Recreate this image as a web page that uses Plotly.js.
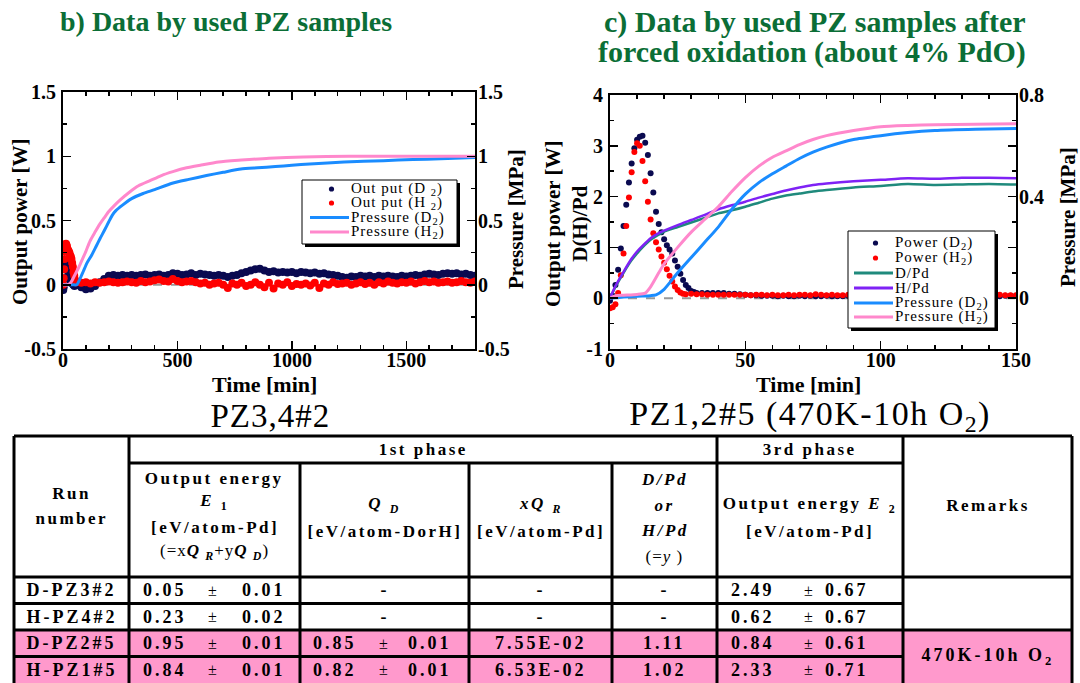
<!DOCTYPE html>
<html>
<head>
<meta charset="utf-8">
<script src="https://cdn.plot.ly/plotly-3.0.1.min.js"></script>
<style>
  html, body { margin: 0; padding: 0; background: #fff; }
  #chart { width: 1080px; height: 683px; }
</style>
</head>
<body>
<div id="chart"></div>
<script>
// ---------------- Panel b: used PZ samples (PZ3,4#2) ----------------
// Output power during the first minutes of the run [min], [W]
const tB_startD = [1, 3, 5, 8, 11, 14, 17, 20, 24, 28, 32, 36, 40, 45, 50, 55];
const powB_startD = [-0.04, -0.02, 0.05, 0.12, 0.16, 0.17, 0.15, 0.12, 0.08, 0.05, 0.03, 0.02, 0.01, 0.0, -0.01, 0.0];
const tB_startH = [1, 3, 5, 7, 9, 11, 13, 15, 17, 19, 22, 25, 28, 31, 34, 37, 40, 43, 46, 49, 52, 56];
const powB_startH = [0.0, 0.05, 0.12, 0.2, 0.26, 0.3, 0.32, 0.31, 0.3, 0.28, 0.27, 0.26, 0.25, 0.23, 0.22, 0.2, 0.17, 0.14, 0.1, 0.07, 0.04, 0.02];

// Output power for the rest of the run, sampled every 20 min
const tB = [
  60, 80, 100, 120, 140, 160, 180, 200, 220, 240,
  260, 280, 300, 320, 340, 360, 380, 400, 420, 440,
  460, 480, 500, 520, 540, 560, 580, 600, 620, 640,
  660, 680, 700, 720, 740, 760, 780, 800, 820, 840,
  860, 880, 900, 920, 940, 960, 980, 1000, 1020, 1040,
  1060, 1080, 1100, 1120, 1140, 1160, 1180, 1200, 1220, 1240,
  1260, 1280, 1300, 1320, 1340, 1360, 1380, 1400, 1420, 1440,
  1460, 1480, 1500, 1520, 1540, 1560, 1580, 1600, 1620, 1640,
  1660, 1680, 1700, 1720, 1740, 1760, 1780, 1800
];
const powB_D2 = [
  0.0, -0.02, -0.035, -0.03, -0.01, 0.02, 0.045, 0.07, 0.075, 0.07,
  0.075, 0.07, 0.075, 0.07, 0.075, 0.08, 0.07, 0.075, 0.08, 0.07,
  0.075, 0.09, 0.085, 0.075, 0.08, 0.09, 0.075, 0.085, 0.08, 0.075,
  0.07, 0.075, 0.07, 0.06, 0.07, 0.075, 0.09, 0.1, 0.11, 0.12,
  0.125, 0.11, 0.1, 0.105, 0.095, 0.1, 0.095, 0.1, 0.09, 0.1,
  0.095, 0.09, 0.095, 0.085, 0.09, 0.08, 0.075, 0.07, 0.06, 0.055,
  0.065, 0.06, 0.07, 0.065, 0.07, 0.06, 0.07, 0.065, 0.07, 0.065,
  0.06, 0.07, 0.065, 0.07, 0.075, 0.07, 0.08, 0.085, 0.08, 0.075,
  0.085, 0.09, 0.085, 0.09, 0.08, 0.085, 0.075, 0.07
];
const powB_H2 = [
  0.02, 0.015, 0.02, 0.01, 0.02, 0.015, 0.02, 0.025, 0.02, 0.015,
  0.02, 0.025, 0.02, 0.015, 0.03, 0.02, 0.025, 0.035, 0.04, 0.03,
  0.025, 0.045, 0.03, 0.02, 0.025, 0.03, 0.02, 0.01, 0.015, 0.0,
  0.01, 0.015, 0.0, -0.025, 0.01, 0.0, 0.015, -0.01, 0.0, 0.02,
  0.0, -0.02, 0.015, -0.03, 0.01, 0.0, 0.02, -0.01, 0.005, 0.0,
  0.01, -0.005, 0.015, -0.025, 0.01, 0.0, 0.02, 0.005, 0.01, 0.015,
  0.0, 0.01, 0.02, 0.005, 0.015, 0.0, 0.02, 0.01, 0.025, 0.015,
  0.01, 0.02, 0.015, 0.025, 0.01, 0.02, 0.03, 0.02, 0.025, 0.015,
  0.02, 0.025, 0.015, 0.02, 0.03, 0.02, 0.015, 0.025
];

// Gas pressure [MPa]
const tPresB_D2 = [0, 40, 60, 75, 89, 105, 125, 145, 162, 180, 200, 215, 230, 260, 300, 350, 400, 477, 550, 627, 700, 777, 850, 928, 1000, 1078, 1228, 1400, 1529, 1650, 1800];
const presB_D2 = [0, 0, 0.0, 0.05, 0.105, 0.17, 0.23, 0.3, 0.36, 0.42, 0.49, 0.54, 0.575, 0.62, 0.67, 0.71, 0.74, 0.79, 0.82, 0.85, 0.875, 0.9, 0.91, 0.92, 0.93, 0.94, 0.955, 0.965, 0.975, 0.98, 0.99];
const tPresB_H2 = [0, 20, 35, 50, 70, 85, 100, 118, 140, 160, 180, 200, 221, 250, 290, 330, 380, 430, 480, 540, 600, 680, 780, 900, 1050, 1250, 1500, 1800];
const presB_H2 = [0, 0, 0.02, 0.07, 0.14, 0.2, 0.26, 0.34, 0.41, 0.47, 0.52, 0.57, 0.61, 0.66, 0.72, 0.77, 0.81, 0.85, 0.88, 0.91, 0.93, 0.955, 0.97, 0.985, 0.995, 1.0, 1.0, 1.0];

// ---------------- Panel c: after forced oxidation (PZ1,2#5) ----------------
// Output power peak, 1 min sampling
const tC_peakD = [0, 1, 2, 3, 4, 5, 6, 7, 8, 9, 10, 11, 12, 13, 14, 15, 16, 17, 18, 19, 20, 21, 22, 23, 24, 25, 26, 27, 28, 29, 30, 31, 32];
const powC_peakD = [-0.05, 0.05, 0.26, 0.56, 0.98, 1.42, 1.84, 2.28, 2.65, 2.95, 3.12, 3.18, 3.2, 3.06, 2.82, 2.46, 2.08, 1.7, 1.46, 1.3, 1.16, 1.04, 0.96, 0.88, 0.74, 0.62, 0.48, 0.36, 0.26, 0.2, 0.14, 0.12, 0.1];
const tC_peakH = [0, 1, 2, 3, 4, 5, 6, 7, 8, 9, 10, 11, 12, 13, 14, 15, 16, 17, 18, 19, 20, 21, 22, 23, 24, 25, 26, 27, 28];
const powC_peakH = [-0.2, -0.18, -0.12, 0.1, 0.45, 0.88, 1.42, 1.98, 2.48, 2.88, 3.05, 3.0, 2.7, 2.3, 1.9, 1.55, 1.28, 1.1, 0.96, 0.82, 0.7, 0.57, 0.44, 0.33, 0.23, 0.16, 0.11, 0.09, 0.08];

// Output power after the peak, 2 min sampling
const tC_tailD = [
  34, 36, 38, 40, 42, 44, 46, 48, 50, 52,
  54, 56, 58, 60, 62, 64, 66, 68, 70, 72,
  74, 76, 78, 80, 82, 84, 86, 88, 90, 92,
  94, 96, 98, 100, 102, 104, 106, 108, 110, 112,
  114, 116, 118, 120, 122, 124, 126, 128, 130, 132,
  134, 136, 138, 140, 142, 144, 146, 148, 150
];
const powC_tailD = [
  0.1, 0.1, 0.1, 0.1, 0.1, 0.09, 0.09, 0.08, 0.07, 0.06,
  0.06, 0.05, 0.05, 0.05, 0.04, 0.05, 0.04, 0.04, 0.05, 0.04,
  0.05, 0.04, 0.04, 0.05, 0.04, 0.04, 0.04, 0.05, 0.04, 0.04,
  0.05, 0.04, 0.05, 0.05, 0.04, 0.05, 0.05, 0.04, 0.05, 0.05,
  0.04, 0.05, 0.05, 0.04, 0.05, 0.05, 0.05, 0.04, 0.05, 0.05,
  0.05, 0.04, 0.05, 0.05, 0.05, 0.04, 0.05, 0.05, 0.05
];
const tC_tailH = [
  30, 32, 34, 36, 38, 40, 42, 44, 46, 48,
  50, 52, 54, 56, 58, 60, 62, 64, 66, 68,
  70, 72, 74, 76, 78, 80, 82, 84, 86, 88,
  90, 92, 94, 96, 98, 100, 102, 104, 106, 108,
  110, 112, 114, 116, 118, 120, 122, 124, 126, 128,
  130, 132, 134, 136, 138, 140, 142, 144, 146, 148,
  150
];
const powC_tailH = [
  0.09, 0.08, 0.08, 0.07, 0.07, 0.07, 0.07, 0.07, 0.07, 0.07,
  0.07, 0.06, 0.07, 0.07, 0.06, 0.07, 0.06, 0.06, 0.07, 0.06,
  0.07, 0.07, 0.06, 0.08, 0.07, 0.06, 0.07, 0.06, 0.06, 0.07,
  0.06, 0.06, 0.07, 0.06, 0.06, 0.06, 0.07, 0.06, 0.06, 0.06,
  0.06, 0.07, 0.06, 0.06, 0.06, 0.06, 0.07, 0.06, 0.06, 0.06,
  0.06, 0.06, 0.07, 0.06, 0.06, 0.06, 0.06, 0.07, 0.06, 0.06,
  0.06
];

// Loading ratio D/Pd and H/Pd
const tC_ratio = [0, 2, 5, 8, 10, 12, 15, 18, 20, 25, 30, 35, 40, 45, 50, 55, 60, 65, 70, 75, 80, 90, 100, 110, 120, 130, 140, 150];
const ratioD = [0, 0.22, 0.5, 0.75, 0.88, 1.0, 1.15, 1.25, 1.31, 1.4, 1.49, 1.58, 1.67, 1.73, 1.8, 1.88, 1.96, 2.02, 2.06, 2.1, 2.13, 2.18, 2.21, 2.25, 2.23, 2.24, 2.25, 2.24];
const ratioH = [0, 0.24, 0.52, 0.78, 0.92, 1.03, 1.18, 1.28, 1.33, 1.44, 1.54, 1.64, 1.75, 1.83, 1.9, 1.98, 2.05, 2.12, 2.18, 2.23, 2.26, 2.3, 2.33, 2.36, 2.35, 2.37, 2.37, 2.36];

// Gas pressure [MPa]
const tPresC_D2 = [0, 5, 10, 15, 17, 20, 25, 30, 35, 40, 45, 50, 55, 60, 65, 70, 75, 80, 90, 100, 110, 120, 135, 150];
const presC_D2 = [0, 0.005, 0.008, 0.01, 0.013, 0.035, 0.1, 0.16, 0.22, 0.28, 0.35, 0.41, 0.455, 0.49, 0.52, 0.55, 0.575, 0.595, 0.625, 0.64, 0.652, 0.66, 0.665, 0.668];
const tPresC_H2 = [0, 2, 5, 10, 13, 15, 18, 20, 25, 30, 35, 40, 45, 50, 55, 60, 65, 70, 75, 80, 90, 100, 110, 120, 135, 150];
const presC_H2 = [0, 0.01, 0.012, 0.015, 0.02, 0.045, 0.1, 0.135, 0.2, 0.26, 0.31, 0.36, 0.42, 0.475, 0.52, 0.555, 0.58, 0.605, 0.625, 0.64, 0.66, 0.675, 0.68, 0.683, 0.685, 0.687];

// Axis tick labels
const yTicksB = [-0.5, 0, 0.5, 1, 1.5];
const yTickTextB = ['-0.5', '0', '0.5', '1', '1.5'];
const yTicksC = [-1, 0, 1, 2, 3, 4];
const yTickTextC = ['-1', '0', '1', '2', '3', '4'];
const yTicksC2 = [0, 0.4, 0.8];
const yTickTextC2 = ['0', '0.4', '0.8'];

// ---------------- Summary table ----------------
const runIds = ['D-PZ3#2', 'H-PZ4#2', 'D-PZ2#5', 'H-PZ1#5'];
const e1Val = ['0.05', '0.23', '0.95', '0.84'];
const e1Err = ['0.01', '0.02', '0.01', '0.01'];
const qdVal = [null, null, '0.85', '0.82'];
const qdErr = [null, null, '0.01', '0.01'];
const xqrVal = ['-', '-', '7.55E-02', '6.53E-02'];
const yRatioVal = ['-', '-', '1.11', '1.02'];
const e2Val = ['2.49', '0.62', '0.84', '2.33'];
const e2Err = ['0.67', '0.67', '0.61', '0.71'];
const highlightRows = [2, 3];
const remarkText = '470K-10h O<sub>2</sub>';

// ---------------- Colours and helpers ----------------
const FONT = 'Liberation Serif';
const C = {
  navy: '#0a0a50', red: '#ff0000', blue: '#1a8cff', pink: '#ff88cc',
  teal: '#1f8a7c', purple: '#7f22f5', green: '#0b6e36', fill: '#ff99cc'
};
const W = 1080, H = 683;
const px = x => x / W;
const py = y => 1 - y / H;

const shapes = [];
const annotations = [];
const spaced = []; // [annotation index, letter spacing px]

function addText(text, x, y, opt = {}) {
  const xanchor = opt.xanchor || 'center';
  annotations.push({
    text, x: px(x), y: py(y), xref: 'paper', yref: 'paper', showarrow: false,
    xanchor, yanchor: 'middle', align: xanchor === 'left' ? 'left' : (xanchor === 'right' ? 'right' : 'center'),
    textangle: opt.angle || 0,
    font: { family: FONT, size: opt.size || 17, color: opt.color || '#000', weight: opt.weight || 'bold' },
    borderpad: 0
  });
  const i = annotations.length - 1;
  if (opt.spacing) spaced.push([i, opt.spacing]);
  return i;
}
function line(x0, y0, x1, y1, w, color) {
  shapes.push({ type: 'line', xref: 'paper', yref: 'paper', x0: px(x0), y0: py(y0), x1: px(x1), y1: py(y1),
    line: { color: color || '#000', width: w } });
}
function rect(x0, y0, x1, y1, fill, lineColor, lw) {
  shapes.push({ type: 'rect', xref: 'paper', yref: 'paper', x0: px(x0), y0: py(y0), x1: px(x1), y1: py(y1),
    fillcolor: fill, line: { color: lineColor || fill, width: lw || 0 } });
}
function dot(cx, cy, r, color) {
  shapes.push({ type: 'circle', xref: 'paper', yref: 'paper', x0: px(cx - r), y0: py(cy + r), x1: px(cx + r), y1: py(cy - r),
    fillcolor: color, line: { width: 0 } });
}

// ---------------- Traces ----------------
const traces = [
  // panel b
  { x: tB_startD.concat(tB), y: powB_startD.concat(powB_D2), xaxis: 'x', yaxis: 'y', mode: 'markers',
    marker: { color: C.navy, size: 8 }, name: 'Out put (D2)' },
  { x: tB_startH.concat(tB), y: powB_startH.concat(powB_H2), xaxis: 'x', yaxis: 'y', mode: 'markers',
    marker: { color: C.red, size: 8 }, name: 'Out put (H2)' },
  { x: tPresB_D2, y: presB_D2, xaxis: 'x', yaxis: 'y2', mode: 'lines', line: { color: C.blue, width: 3, shape: 'spline', smoothing: 0.6 }, name: 'Pressure (D2)' },
  { x: tPresB_H2, y: presB_H2, xaxis: 'x', yaxis: 'y2', mode: 'lines', line: { color: C.pink, width: 3, shape: 'spline', smoothing: 0.6 }, name: 'Pressure (H2)' },
  // panel c
  { x: tC_peakD.concat(tC_tailD), y: powC_peakD.concat(powC_tailD), xaxis: 'x2', yaxis: 'y3', mode: 'markers',
    marker: { color: C.navy, size: 6 }, name: 'Power (D2)' },
  { x: tC_peakH.concat(tC_tailH), y: powC_peakH.concat(powC_tailH), xaxis: 'x2', yaxis: 'y3', mode: 'markers',
    marker: { color: C.red, size: 6 }, name: 'Power (H2)' },
  { x: tC_ratio, y: ratioD, xaxis: 'x2', yaxis: 'y3', mode: 'lines', line: { color: C.teal, width: 2.5, shape: 'spline', smoothing: 0.6 }, name: 'D/Pd' },
  { x: tC_ratio, y: ratioH, xaxis: 'x2', yaxis: 'y3', mode: 'lines', line: { color: C.purple, width: 2.5, shape: 'spline', smoothing: 0.6 }, name: 'H/Pd' },
  { x: tPresC_D2, y: presC_D2, xaxis: 'x2', yaxis: 'y4', mode: 'lines', line: { color: C.blue, width: 3, shape: 'spline', smoothing: 0.6 }, name: 'Pressure (D2)' },
  { x: tPresC_H2, y: presC_H2, xaxis: 'x2', yaxis: 'y4', mode: 'lines', line: { color: C.pink, width: 3, shape: 'spline', smoothing: 0.6 }, name: 'Pressure (H2)' }
];

// zero reference lines
shapes.push({ type: 'line', xref: 'x', yref: 'y', x0: 0, x1: 1800, y0: 0, y1: 0, layer: 'below', line: { color: '#999', width: 2, dash: 'dash' } });
shapes.push({ type: 'line', xref: 'x2', yref: 'y3', x0: 0, x1: 150, y0: 0, y1: 0, layer: 'below', line: { color: '#999', width: 2, dash: 'dash' } });

// ---------------- Axes ----------------
const tickFont = { family: FONT, size: 20, color: '#000', weight: 'bold' };
const axisBase = {
  showline: true, linecolor: '#000', linewidth: 2,
  ticks: 'inside', ticklen: 8, tickwidth: 1.5, tickcolor: '#000',
  showgrid: false, zeroline: false, fixedrange: true, tickfont: tickFont, ticklabelstandoff: 1
};
const minorBase = { ticks: 'inside', ticklen: 4, tickwidth: 1.5, tickcolor: '#000', showgrid: false };

const B = { x0: 63, x1: 475, y0: 92, y1: 349 };
const Cc = { x0: 610, x1: 1016, y0: 95, y1: 349 };

const layout = {
  width: W, height: H, margin: { l: 0, r: 0, t: 0, b: 0 },
  paper_bgcolor: '#fff', plot_bgcolor: 'rgba(0,0,0,0)', showlegend: false,
  xaxis: Object.assign({}, axisBase, { domain: [px(B.x0), px(B.x1)], range: [0, 1800], anchor: 'y',
    tickmode: 'linear', tick0: 0, dtick: 500, mirror: 'ticks', ticklabelstandoff: -8,
    minor: Object.assign({}, minorBase, { tick0: 0, dtick: 100 }) }),
  yaxis: Object.assign({}, axisBase, { domain: [py(B.y1), py(B.y0)], range: [-0.5, 1.5], anchor: 'x',
    tickmode: 'array', tickvals: yTicksB, ticktext: yTickTextB, mirror: 'ticks',
    minor: Object.assign({}, minorBase, { tickmode: 'linear', tick0: 0, dtick: 0.25 }) }),
  yaxis2: Object.assign({}, axisBase, { overlaying: 'y', side: 'right', anchor: 'x', range: [-0.5, 1.5],
    tickmode: 'array', tickvals: yTicksB, ticktext: yTickTextB, ticklabelstandoff: -3,
    minor: Object.assign({}, minorBase, { tickmode: 'linear', tick0: 0, dtick: 0.25 }) }),
  xaxis2: Object.assign({}, axisBase, { domain: [px(Cc.x0), px(Cc.x1)], range: [0, 150], anchor: 'y3',
    tickmode: 'linear', tick0: 0, dtick: 50, mirror: 'ticks', ticklabelstandoff: -8,
    minor: Object.assign({}, minorBase, { tick0: 0, dtick: 10 }) }),
  yaxis3: Object.assign({}, axisBase, { domain: [py(Cc.y1), py(Cc.y0)], range: [-1, 4], anchor: 'x2',
    tickmode: 'array', tickvals: yTicksC, ticktext: yTickTextC, mirror: 'ticks',
    minor: Object.assign({}, minorBase, { tickmode: 'linear', tick0: 0, dtick: 0.5 }) }),
  yaxis4: Object.assign({}, axisBase, { overlaying: 'y3', side: 'right', anchor: 'x2', range: [-0.2, 0.8],
    tickmode: 'array', tickvals: yTicksC2, ticktext: yTickTextC2, ticklabelstandoff: -3,
    minor: Object.assign({}, minorBase, { tickmode: 'linear', tick0: 0, dtick: 0.1 }) }),
  shapes, annotations
};

// ---------------- Titles and axis labels ----------------
addText('b) Data by used PZ samples', 226, 21, { size: 28, color: C.green });
addText('c) Data by used PZ samples after', 815, 22, { size: 30, color: C.green });
addText('forced oxidation (about 4% PdO)', 812, 52, { size: 30, color: C.green });

addText('Output power [W]', 20, 222, { size: 21, angle: -90 });
addText('Pressure [MPa]', 516, 219, { size: 21, angle: -90 });
addText('Time [min]', 264, 384, { size: 22 });
addText('PZ3,4#2', 270, 416, { size: 33, weight: 'normal', spacing: 1 });

addText('Output power [W]<br>D(H)/Pd', 566, 224, { size: 21, angle: -90 });
addText('Pressure [MPa]', 1068, 217, { size: 21, angle: -90 });
addText('Time [min]', 808, 384, { size: 22 });
addText('PZ1,2#5 (470K-10h O<sub>2</sub>)', 810, 416, { size: 34, weight: 'normal', spacing: 1.5 });

// ---------------- Legends ----------------
function legendBox(x0, y0, x1, y1) {
  rect(x0 + 3, y0 + 3, x1 + 3, y1 + 3, '#000');
  rect(x0, y0, x1, y1, '#fff', '#000', 1);
}
function legendEntries(entries, lx0, lx1, textX, rowY) {
  entries.forEach((e, i) => {
    const y = rowY[i];
    if (e.kind === 'dot') dot((lx0 + lx1) / 2 + 2, y, 2.6, e.color);
    else line(lx0, y, lx1, y, 3, e.color);
    addText(e.label, textX, y, { xanchor: 'left', size: 15, weight: 'normal', spacing: 1 });
  });
}
legendBox(302, 180, 457, 244);
legendEntries([
  { kind: 'dot', color: C.navy, label: 'Out put (D <sub>2</sub>)' },
  { kind: 'dot', color: C.red, label: 'Out put (H <sub>2</sub>)' },
  { kind: 'line', color: C.blue, label: 'Pressure (D<sub>2</sub>)' },
  { kind: 'line', color: C.pink, label: 'Pressure (H<sub>2</sub>)' }
], 310, 349, 350, [189, 203, 217.5, 232]);

legendBox(848, 231, 995, 328);
legendEntries([
  { kind: 'dot', color: C.navy, label: 'Power (D<sub>2</sub>)' },
  { kind: 'dot', color: C.red, label: 'Power (H<sub>2</sub>)' },
  { kind: 'line', color: C.teal, label: 'D/Pd' },
  { kind: 'line', color: C.purple, label: 'H/Pd' },
  { kind: 'line', color: C.blue, label: 'Pressure (D<sub>2</sub>)' },
  { kind: 'line', color: C.pink, label: 'Pressure (H<sub>2</sub>)' }
], 854, 893, 894, [243, 258, 273, 288, 303, 317]);

// ---------------- Table ----------------
const colX = [14, 129, 300, 469, 612, 717, 903, 1072];
const tTop = 436, tPhase = 463, tHead = 577, rowH = 26.5, tBottom = 690;
const rowY = i => tHead + rowH * (i + 0.5);
const colMid = c => (colX[c] + colX[c + 1]) / 2;
const LS = 2.5; // letter spacing of header text
const DS = 3;   // letter spacing of body text
const DZ = 18;  // body font size

// highlighted rows
const hlTop = tHead + rowH * Math.min(...highlightRows);
rect(colX[0], hlTop, colX[7], tBottom, C.fill);

// grid
const LW = 3;
line(colX[0], tTop, colX[7], tTop, LW);
line(colX[1], tPhase, colX[6], tPhase, LW);
line(colX[0], tHead, colX[7], tHead, LW);
line(colX[0], tHead + rowH, colX[6], tHead + rowH, LW);
line(colX[0], tHead + 2 * rowH, colX[7], tHead + 2 * rowH, LW);
line(colX[0], tHead + 3 * rowH, colX[6], tHead + 3 * rowH, LW);
[0, 1, 5, 6, 7].forEach(c => line(colX[c], tTop, colX[c], tBottom, LW));
[2, 3, 4].forEach(c => line(colX[c], tPhase, colX[c], tBottom, LW));

// header
addText('1st phase', (colX[1] + colX[5]) / 2, 449.5, { spacing: LS });
addText('3rd phase', colMid(5), 449.5, { spacing: LS });
addText('Run', colMid(0), 493, { spacing: LS });
addText('number', colMid(0), 518, { spacing: LS });
addText('Remarks', colMid(6), 505, { spacing: LS });

addText('Output energy', colMid(1), 478, { spacing: LS });
addText('<i>E</i> <sub>1</sub>', colMid(1), 502, { spacing: LS });
addText('[eV/atom-Pd]', colMid(1), 527, { spacing: LS });
addText('(=x<b><i>Q</i></b> <sub><b><i>R</i></b></sub>+y<b><i>Q</i></b> <sub><b><i>D</i></b></sub>)', colMid(1), 552, { spacing: 1, weight: 'normal' });

addText('<i>Q</i> <sub><i>D</i></sub>', colMid(2), 505, { spacing: LS });
addText('[eV/atom-DorH]', colMid(2), 531, { spacing: LS });

addText('<i>xQ</i> <sub><i>R</i></sub>', colMid(3), 505, { spacing: LS });
addText('[eV/atom-Pd]', colMid(3), 531, { spacing: LS });

addText('<i>D/Pd</i>', colMid(4), 479, { spacing: LS });
addText('<i>or</i>', colMid(4), 505, { spacing: LS });
addText('<i>H/Pd</i>', colMid(4), 530, { spacing: LS });
addText('(=<i>y</i> )', colMid(4), 556, { spacing: 1, weight: 'normal' });

addText('Output energy <i>E</i> <sub>2</sub>', colMid(5), 505, { spacing: LS });
addText('[eV/atom-Pd]', colMid(5), 531, { spacing: LS });

// value ± error cells: [left text start, ± position, right text end]
const pmLayout = { 1: [142, 212, 287], 2: [312, 383, 453], 5: [730, 808, 870] };
function pmCell(c, r, v, e) {
  const [a, b, d] = pmLayout[c];
  addText(v, a, rowY(r), { xanchor: 'left', spacing: DS, size: DZ });
  addText('±', b, rowY(r), { weight: 'normal', size: 16 });
  addText(e, d, rowY(r), { xanchor: 'right', spacing: DS, size: DZ });
}
runIds.forEach((id, r) => {
  addText(id, colMid(0), rowY(r), { spacing: DS, size: DZ });
  pmCell(1, r, e1Val[r], e1Err[r]);
  if (qdVal[r] === null) addText('-', colMid(2), rowY(r), { spacing: DS, size: DZ });
  else pmCell(2, r, qdVal[r], qdErr[r]);
  addText(xqrVal[r], colMid(3), rowY(r), { spacing: DS, size: DZ });
  addText(yRatioVal[r], colMid(4), rowY(r), { spacing: DS, size: DZ });
  pmCell(5, r, e2Val[r], e2Err[r]);
});
addText(remarkText, colMid(6), (rowY(2) + rowY(3)) / 2, { spacing: DS, size: DZ });

Plotly.newPlot('chart', traces, layout, { displayModeBar: false, staticPlot: true }).then(gd => {
  spaced.forEach(([i, s]) => {
    const t = gd.querySelector('g.annotation[data-index="' + i + '"] text.annotation-text');
    if (t) t.style.letterSpacing = s + 'px';
  });
});
</script>
</body>
</html>
